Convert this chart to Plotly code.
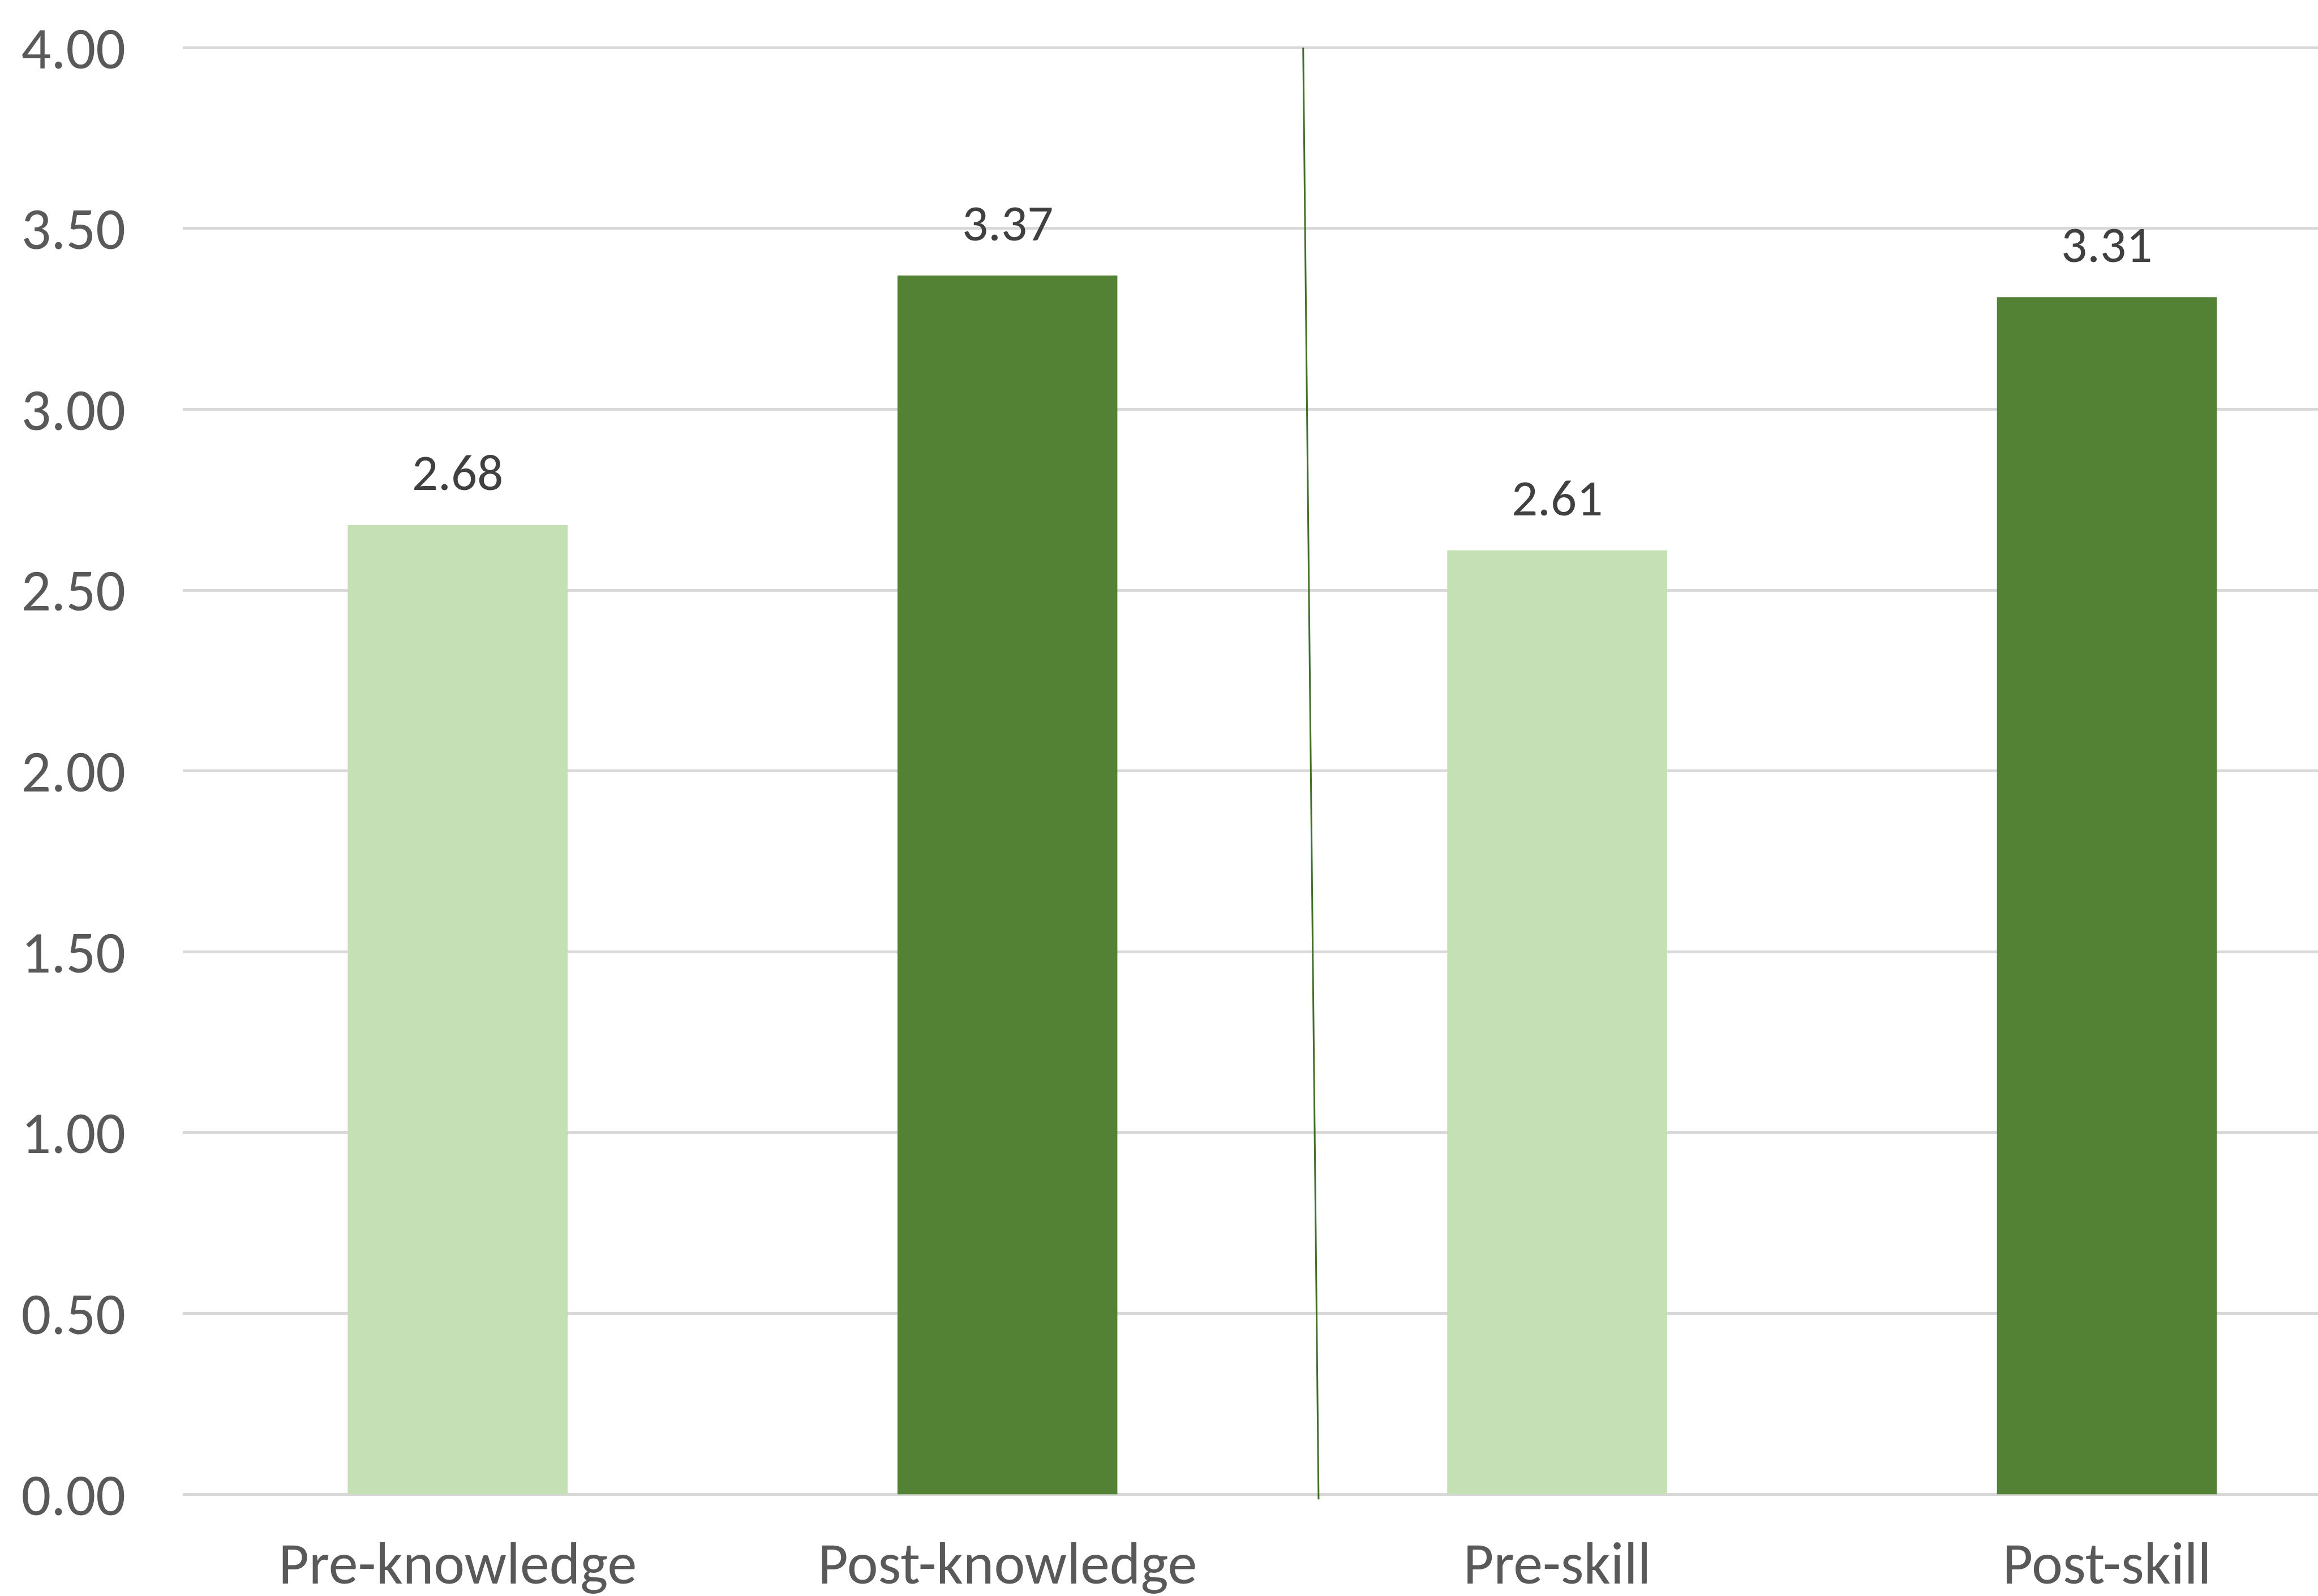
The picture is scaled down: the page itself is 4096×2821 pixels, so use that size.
import plotly.graph_objects as go

categories = ["Pre-knowledge", "Post-knowledge", "Pre-skill", "Post-skill"]
scores = [2.68, 3.37, 2.61, 3.31]
bar_colors = ["#C5E0B4", "#548235", "#C5E0B4", "#548235"]
y_ticks = [0.0, 0.5, 1.0, 1.5, 2.0, 2.5, 3.0, 3.5, 4.0]

FONT = "Calibri, Carlito, Lato, sans-serif"

fig = go.Figure()
fig.add_trace(go.Bar(
    x=categories,
    y=scores,
    width=0.4,
    marker=dict(color=bar_colors, line=dict(width=0)),
    hoverinfo="skip",
))

# value labels above each bar
for cat, val in zip(categories, scores):
    fig.add_annotation(
        x=cat, y=val, text=f"{val:.2f}", showarrow=False,
        xref="x", yref="y", yanchor="bottom", yshift=36,
        font=dict(family=FONT, size=91, color="#404040"),
    )

# thin divider between the knowledge and skill groups
fig.add_shape(
    type="line", xref="x", yref="y",
    x0=1.538, y0=4.0, x1=1.566, y1=-0.014,
    line=dict(color="#3F6F28", width=3),
    layer="above",
)

fig.update_layout(
    width=4096, height=2821,
    margin=dict(l=323, r=0, t=81, b=167, pad=0, autoexpand=False),
    paper_bgcolor="white", plot_bgcolor="white",
    showlegend=False,
    bargap=0.6,
    xaxis=dict(
        range=[-0.5, 3.384],
        automargin=False,
        showgrid=False, zeroline=False, showline=False,
        ticks="", ticklabelstandoff=40,
        tickfont=dict(family=FONT, size=104, color="#595959"),
    ),
    yaxis=dict(
        range=[-0.02, 4.005],
        automargin=False,
        tickvals=y_ticks,
        ticktext=[f"{v:.2f}" for v in y_ticks],
        showgrid=True, gridcolor="#D9D9D9", gridwidth=5,
        zeroline=False, showline=False,
        ticks="", ticklabelstandoff=100,
        tickfont=dict(family=FONT, size=104, color="#595959"),
    ),
)

fig.write_html("out.html")
